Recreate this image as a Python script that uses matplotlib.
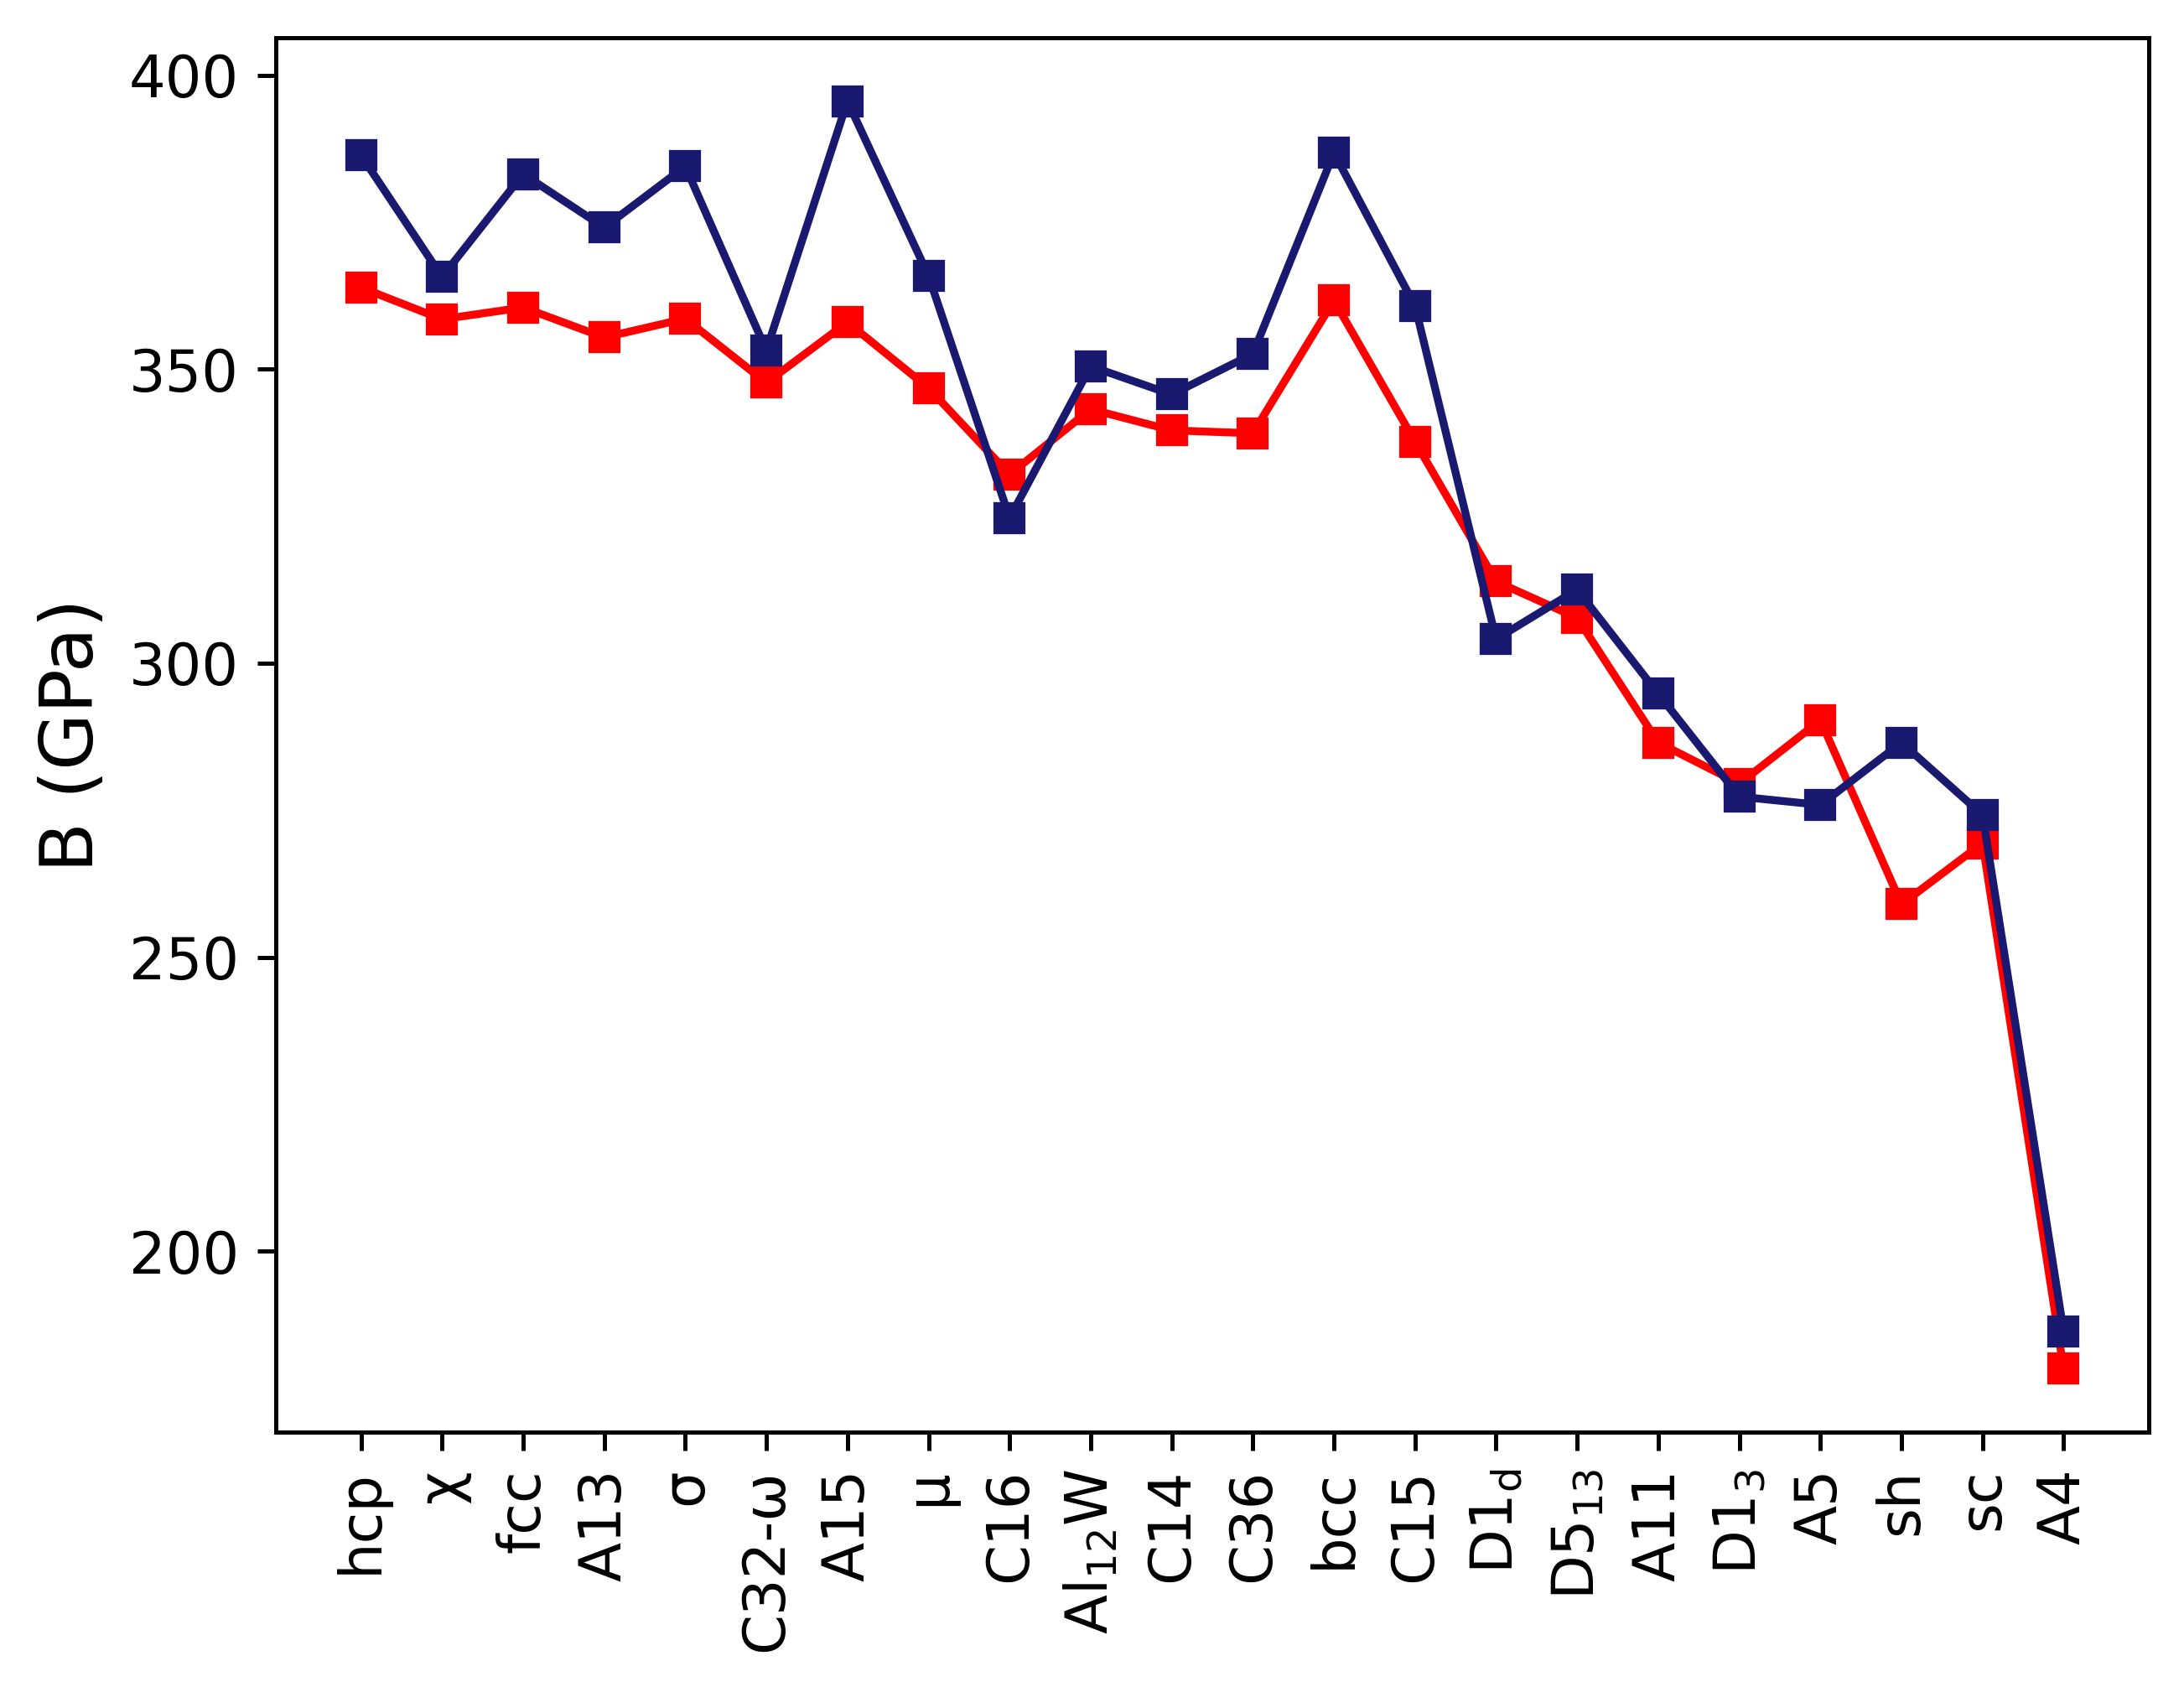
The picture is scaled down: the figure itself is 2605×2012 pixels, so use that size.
import matplotlib
matplotlib.use("Agg")
import matplotlib.pyplot as plt

plt.rcParams['mathtext.default'] = 'regular'

categories = ["hcp", "χ", "fcc", "A13", "σ", "C32-ω", "A15", "μ", "C16",
              "Al$_{12}$W", "C14", "C36", "bcc", "C15", "D1$_{d}$", "D5$_{13}$",
              "A11", "D1$_{3}$", "A5", "sh", "sc", "A4"]

red_values = [363.9, 358.5, 360.5, 355.4, 358.6, 347.7, 358.0, 346.8, 332.1,
              343.2, 339.6, 339.1, 361.7, 337.7, 313.9, 307.7,
              286.5, 279.5, 290.3, 259.0, 269.4, 180.0]
blue_values = [386.4, 365.7, 383.2, 374.1, 384.5, 353.2, 395.6, 365.9, 324.7,
               350.5, 345.7, 352.6, 386.8, 360.8, 304.1, 312.5,
               294.8, 277.3, 275.9, 286.5, 274.2, 186.3]

fig = plt.figure(figsize=(2605/450, 2012/450), dpi=450)
ax = fig.add_axes([329/2605, 1-1708/2012, (2563-329)/2605, (1708-45)/2012])

x = list(range(len(categories)))
ax.plot(x, red_values, color='red', marker='s', markersize=5, linewidth=1.5)
ax.plot(x, blue_values, color='midnightblue', marker='s', markersize=5, linewidth=1.5)

ax.set_xticks(x)
ax.set_xticklabels(categories, rotation=90, fontsize=11)
ax.tick_params(axis='y', labelsize=11)
ax.set_ylabel('B (GPa)', fontsize=14)

fig.savefig('out.png', dpi=450)
